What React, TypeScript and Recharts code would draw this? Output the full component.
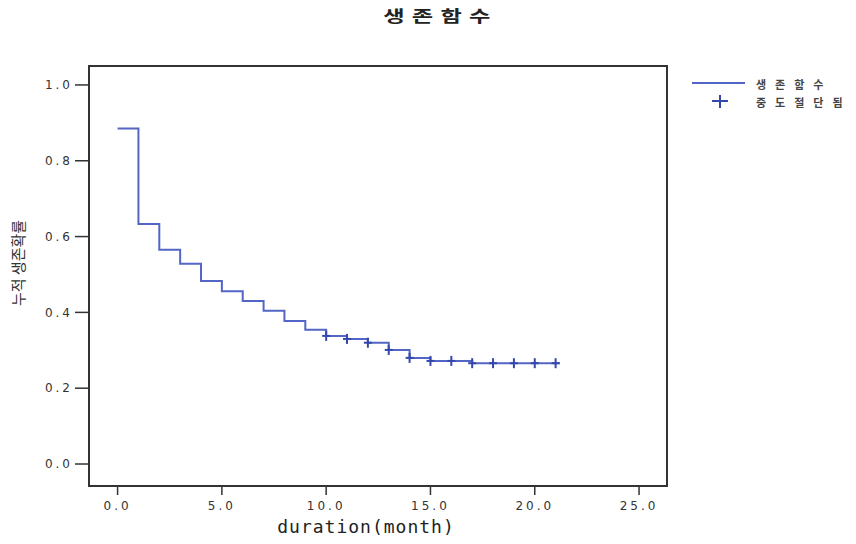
import React from "react";
import {
  ComposedChart,
  Line,
  Scatter,
  XAxis,
  YAxis,
  ReferenceArea,
} from "recharts";

// Kaplan-Meier step curve (time in months, cumulative survival)
const times = [0, 1, 2, 3, 4, 5, 6, 7, 8, 9, 10, 11, 12, 13, 14, 15, 16, 17, 21.2];
const survival = [
  0.885, 0.633, 0.565, 0.528, 0.483, 0.456, 0.43, 0.404, 0.377, 0.354,
  0.338, 0.33, 0.32, 0.301, 0.28, 0.272, 0.272, 0.266, 0.266,
];

// censored observations
const censorTimes = [10, 11, 12, 13, 14, 15, 16, 17, 18, 19, 20, 21];
const censorSurvival = [
  0.338, 0.33, 0.32, 0.301, 0.28, 0.272, 0.272, 0.266, 0.266, 0.266, 0.266, 0.266,
];

const xTicks = [0, 5, 10, 15, 20, 25];
const yTicks = [0, 0.2, 0.4, 0.6, 0.8, 1.0];

const title = "생존함수";
const legendLabels = ["생존함수", "중도절단됨"];
const xLabel = "duration(month)";
const yLabel = "누적 생존확률";

const curveData = times.map((t, i) => ({ x: t, y: survival[i] }));
const censorData = censorTimes.map((t, i) => ({ x: t, y: censorSurvival[i] }));

const LINE = "#5366c6";
const MARK = "#3547ad";
const AXIS = "#333";

const X_DOMAIN: [number, number] = [-1.37, 26.34];
const Y_DOMAIN: [number, number] = [-0.058, 1.05];

const Plus = (props: any) => {
  const { cx, cy } = props;
  if (cx == null || cy == null) return null;
  return (
    <g>
      <line x1={cx - 4} x2={cx + 4} y1={cy} y2={cy} stroke={MARK} strokeWidth={2} />
      <line x1={cx} x2={cx} y1={cy - 5} y2={cy + 5} stroke={MARK} strokeWidth={2} />
    </g>
  );
};

const tickStyle = {
  fontFamily: "DejaVu Sans",
  fontSize: 12,
  fill: "#333",
  letterSpacing: 3,
};

export default function App() {
  return (
    <div
      style={{
        position: "absolute",
        left: 0,
        top: 0,
        width: 856,
        height: 544,
        background: "#fff",
      }}
    >
      <ComposedChart
        width={856}
        height={544}
        margin={{ top: 66, right: 189, bottom: 0, left: 0 }}
      >
        <XAxis
          type="number"
          dataKey="x"
          domain={X_DOMAIN}
          allowDataOverflow
          ticks={xTicks}
          tickFormatter={(v: number) => v.toFixed(1)}
          height={58}
          axisLine={false}
          tickLine={{ stroke: AXIS, strokeWidth: 1.5 }}
          tickSize={9}
          tickMargin={6}
          tick={tickStyle}
        />
        <YAxis
          type="number"
          dataKey="y"
          domain={Y_DOMAIN}
          allowDataOverflow
          ticks={yTicks}
          tickFormatter={(v: number) => v.toFixed(1)}
          width={89}
          axisLine={false}
          tickLine={{ stroke: AXIS, strokeWidth: 1.5 }}
          tickSize={14}
          tickMargin={2}
          tick={tickStyle}
        />
        <ReferenceArea
          x1={X_DOMAIN[0]}
          x2={X_DOMAIN[1]}
          y1={Y_DOMAIN[0]}
          y2={Y_DOMAIN[1]}
          fill="none"
          fillOpacity={0}
          stroke={AXIS}
          strokeWidth={2}
          ifOverflow="visible"
        />
        <Line
          data={curveData}
          dataKey="y"
          type="stepAfter"
          stroke={LINE}
          strokeWidth={2}
          dot={false}
          isAnimationActive={false}
        />
        <Scatter
          data={censorData}
          dataKey="y"
          shape={<Plus />}
          isAnimationActive={false}
        />
      </ComposedChart>

      {/* Title */}
      <div
        style={{
          position: "absolute",
          left: 340,
          top: 5,
          width: 200,
          textAlign: "center",
          fontFamily: "'Noto Sans CJK KR'",
          fontWeight: 700,
          fontSize: 16,
          lineHeight: "20px",
          color: "#222",
        }}
      >
        <span
          style={{
            display: "inline-block",
            transform: "scaleX(1.45)",
            letterSpacing: 5,
          }}
        >
          {title}
        </span>
      </div>

      {/* Legend */}
      <svg
        style={{ position: "absolute", left: 685, top: 72 }}
        width={171}
        height={40}
      >
        <line x1={7} x2={60} y1={11} y2={11} stroke={LINE} strokeWidth={2} />
        <line x1={27} x2={43} y1={29} y2={29} stroke={MARK} strokeWidth={2} />
        <line x1={35} x2={35} y1={23} y2={36} stroke={MARK} strokeWidth={2} />
      </svg>
      <div
        style={{
          position: "absolute",
          left: 756,
          top: 76,
          fontFamily: "'Noto Sans CJK KR'",
          fontSize: 11,
          fontWeight: 700,
          lineHeight: "16px",
          color: "#444",
          letterSpacing: 9,
          whiteSpace: "nowrap",
        }}
      >
        <div>{legendLabels[0]}</div>
        <div style={{ marginTop: 2 }}>{legendLabels[1]}</div>
      </div>

      {/* Y axis label */}
      <div
        style={{
          position: "absolute",
          left: 17,
          top: 263,
          transform: "translate(-50%, -50%) rotate(-90deg)",
          fontFamily: "'Noto Sans CJK KR'",
          fontSize: 15,
          color: "#333",
          whiteSpace: "nowrap",
        }}
      >
        {yLabel}
      </div>

      {/* X axis label */}
      <div
        style={{
          position: "absolute",
          left: 266,
          top: 515,
          width: 200,
          textAlign: "center",
          fontFamily: "'DejaVu Sans Mono'",
          fontSize: 18,
          lineHeight: "24px",
          letterSpacing: 1,
          color: "#222",
        }}
      >
        {xLabel}
      </div>
    </div>
  );
}
